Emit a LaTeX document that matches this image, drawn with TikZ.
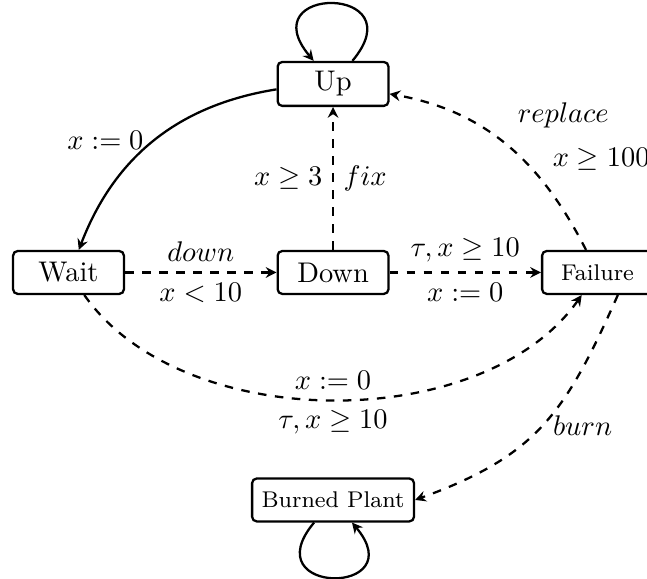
\documentclass[tikz,border=0pt]{standalone}
\usepackage{amsmath,amssymb}
\usetikzlibrary{arrows.meta}

\begin{document}
\begin{tikzpicture}[
  >={Stealth[length=3.8pt,width=3.8pt,inset=1.3pt]},
  thick,
  loc/.style={draw,rounded corners=1.6pt,minimum width=1.37cm,minimum height=0.53cm},
  small/.style={font=\footnotesize}
]
\useasboundingbox (0,0) rectangle (8,7.159);

% Locations of the plant.
\node[loc] (up) at (4.118,6.121) {Up};
\node[loc] (wait) at (0.847,3.790) {Wait};
\node[loc] (down) at (4.118,3.790) {Down};
\node[loc,small] (failure) at (7.388,3.790) {Failure};
\node[loc,small] (burned) at (4.118,0.977) {Burned Plant};

% Self loops.
\draw[->] (up) to[out=50,in=130,looseness=6.6] (up);
\draw[->] (burned) to[out=230,in=310,looseness=6.5] (burned);

% Transitions between locations.
\draw[->] (up) to[bend right=30] node[left] {$x:=0$} (wait);
\draw[->,dashed] (wait) -- node[above] {$down$} node[below] {$x<10$} (down);
\draw[->,dashed] (down) -- node[left] {$x\geq 3$} node[right] {$fix$} (up);
\draw[->,dashed] (down) -- node[above] {$\tau,x\geq 10$} node[below] {$x:=0$} (failure);
\draw[->,dashed] (wait) to[out=-55,in=235,looseness=0.88]
  node[above] {$x:=0$} node[below] {$\tau,x\geq 10$} (failure);
\draw[->,dashed] (failure) to[out=117,in=-10]
  node[pos=0.3,above right] {$x\geq 100$} node[pos=0.5,above right,yshift=2.6pt] {$replace$} (up);
\draw[->,dashed] (failure.-48) to[out=-114,in=20,looseness=1.15]
  node[pos=0.5,right] {$burn$} (burned.east);
\end{tikzpicture}
\end{document}
